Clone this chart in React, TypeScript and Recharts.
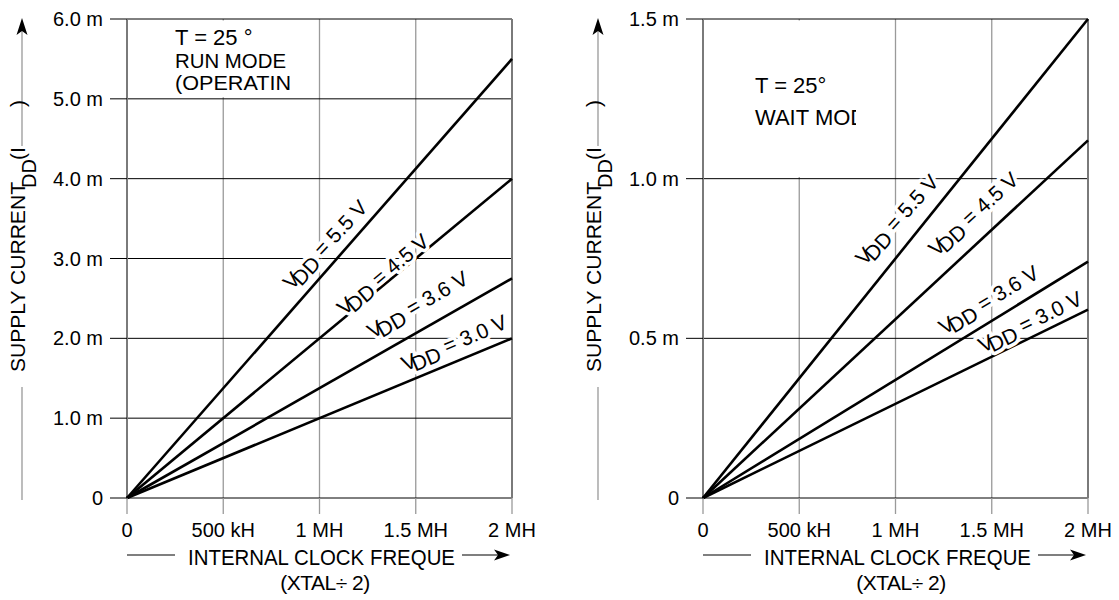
import React from 'react';
import {
  CartesianGrid,
  Line,
  LineChart,
  ReferenceArea,
  ReferenceDot,
  ReferenceLine,
  XAxis,
  YAxis,
} from 'recharts';

// clock frequency in MHz (XTAL / 2)
const freqMHz = [0, 2];

// run mode supply current, mA
const runVdd55 = [0, 5.5];
const runVdd45 = [0, 4.0];
const runVdd36 = [0, 2.75];
const runVdd30 = [0, 2.0];

// wait mode supply current, mA
const waitVdd55 = [0, 1.5];
const waitVdd45 = [0, 1.12];
const waitVdd36 = [0, 0.74];
const waitVdd30 = [0, 0.59];

const xTicks = [0, 0.5, 1, 1.5, 2];
const xTickLabels = ['0', '500 kH', '1 MH', '1.5 MH', '2 MH'];

const runYTicks = [0, 1, 2, 3, 4, 5, 6];
const runYLabels = ['0', '1.0 m', '2.0 m', '3.0 m', '4.0 m', '5.0 m', '6.0 m'];

const waitYTicks = [0, 0.5, 1, 1.5];
const waitYLabels = ['0', '0.5 m', '1.0 m', '1.5 m'];

const vddNames = ['5.5', '4.5', '3.6', '3.0'];

type Row = { f: number; v55: number; v45: number; v36: number; v30: number };

const toRows = (a: number[], b: number[], c: number[], d: number[]): Row[] =>
  freqMHz.map((f, i) => ({ f, v55: a[i], v45: b[i], v36: c[i], v30: d[i] }));

const runData = toRows(runVdd55, runVdd45, runVdd36, runVdd30);
const waitData = toRows(waitVdd55, waitVdd45, waitVdd36, waitVdd30);

// where the "VDD = x V" tags sit, in data units, and their tilt
const runTags = [
  { x: 1.03, y: 3.17, angle: -47 },
  { x: 1.33, y: 2.8, angle: -40 },
  { x: 1.51, y: 2.42, angle: -30 },
  { x: 1.7, y: 1.94, angle: -23 },
];
const waitTags = [
  { x: 1.008, y: 0.871, angle: -48 },
  { x: 1.405, y: 0.889, angle: -42 },
  { x: 1.485, y: 0.62, angle: -31 },
  { x: 1.7, y: 0.551, angle: -26 },
];

const FONT = '"Liberation Sans", Arial, Helvetica, sans-serif';

const TagText = (props: any) => (
  <text x={0} y={7} textAnchor="middle" fontSize={21} {...props}>
    V
    <tspan dx={-5} dy={4}>
      DD
    </tspan>
    <tspan dy={-4}>{` = ${props.volts} V`}</tspan>
  </text>
);

const VddTag = ({ cx, cy, angle, volts }: any) => (
  <g transform={`translate(${cx},${cy}) rotate(${angle})`}>
    <TagText volts={volts} fill="none" stroke="#fff" strokeWidth={7} strokeLinejoin="round" />
    <TagText volts={volts} fill="#000" />
  </g>
);

type PanelProps = {
  data: Row[];
  width: number;
  rightMargin: number;
  yMax: number;
  yTicks: number[];
  yLabels: string[];
  tags: { x: number; y: number; angle: number }[];
  noteBox: { x1: number; x2: number; y1: number; y2: number };
};

const Panel = ({ data, width, rightMargin, yMax, yTicks, yLabels, tags, noteBox }: PanelProps) => (
  <LineChart
    width={width}
    height={600}
    data={data}
    margin={{ top: 19, right: rightMargin, left: 67, bottom: 62 }}
  >
    <CartesianGrid horizontal={false} stroke="#9a9a9a" strokeWidth={1.3} />
    <CartesianGrid vertical={false} stroke="#000" strokeWidth={1} />
    <ReferenceArea {...noteBox} fill="#fff" fillOpacity={1} stroke="none" />
    <ReferenceLine x={0} stroke="#7a7a7a" strokeWidth={2} />
    <ReferenceLine x={2} stroke="#7a7a7a" strokeWidth={2} />
    <XAxis
      dataKey="f"
      type="number"
      domain={[0, 2]}
      ticks={xTicks}
      interval={0}
      height={40}
      axisLine={false}
      tickSize={16}
      tickMargin={9}
      tickLine={{ stroke: '#9a9a9a', strokeWidth: 1.3 }}
      tick={{ fill: '#000', fontSize: 20 }}
      tickFormatter={(v: number) => xTickLabels[xTicks.indexOf(v)]}
    />
    <YAxis
      type="number"
      domain={[0, yMax]}
      ticks={yTicks}
      interval={0}
      width={60}
      axisLine={false}
      tickSize={17}
      tickMargin={7}
      tickLine={{ stroke: '#000', strokeWidth: 1 }}
      tick={{ fill: '#000', fontSize: 20 }}
      tickFormatter={(v: number) => yLabels[yTicks.indexOf(v)]}
    />
    {tags.map((t, i) => (
      <ReferenceDot
        key={vddNames[i]}
        x={t.x}
        y={t.y}
        r={0}
        shape={(p: any) => <VddTag cx={p.cx} cy={p.cy} angle={t.angle} volts={vddNames[i]} />}
      />
    ))}
    {['v55', 'v45', 'v36', 'v30'].map((k) => (
      <Line
        key={k}
        type="linear"
        dataKey={k}
        stroke="#000"
        strokeWidth={2.6}
        dot={false}
        isAnimationActive={false}
      />
    ))}
  </LineChart>
);

const AxisTitles = ({ dx }: { dx: number }) => (
  <g transform={`translate(${dx},0)`} fill="#000" fontSize={21}>
    {/* y title */}
    <line x1={22} y1={30} x2={22} y2={146} stroke="#999" strokeWidth={1.3} />
    <line x1={22} y1={387} x2={22} y2={500} stroke="#999" strokeWidth={1.3} />
    <path d="M22,18 L16.5,35 L22,31 L27.5,35 Z" fill="#000" />
    <text x={25} y={372} transform="rotate(-90 25 372)" textLength={190} lengthAdjust="spacingAndGlyphs">
      SUPPLY CURRENT
    </text>
    <text x={36} y={188} transform="rotate(-90 36 188)" fontSize={20}>
      DD
    </text>
    <text x={25} y={160} transform="rotate(-90 25 160)">
      (I
    </text>
    <text x={25} y={107} transform="rotate(-90 25 107)">
      )
    </text>
    {/* x title */}
    <line x1={127} y1={555} x2={175} y2={555} stroke="#000" strokeWidth={1.2} />
    <line x1={462} y1={555} x2={500} y2={555} stroke="#000" strokeWidth={1.2} />
    <path d="M510,555 L494,549.5 L498,555 L494,560.5 Z" fill="#000" />
    <text x={188} y={565} fontSize={22} textLength={267} lengthAdjust="spacingAndGlyphs">
      INTERNAL CLOCK FREQUE
    </text>
    <text x={325} y={590} textAnchor="middle" letterSpacing={-0.5}>
      (XTAL÷ 2)
    </text>
  </g>
);

export default function App() {
  return (
    <div
      style={{
        position: 'absolute',
        left: 0,
        top: 0,
        width: 1119,
        height: 600,
        background: '#fff',
        fontFamily: FONT,
      }}
    >
      <div style={{ position: 'absolute', left: 0, top: 0 }}>
        <Panel
          data={runData}
          width={560}
          rightMargin={48}
          yMax={6}
          yTicks={runYTicks}
          yLabels={runYLabels}
          tags={runTags}
          noteBox={{ x1: 0.2, x2: 0.9, y1: 5.02, y2: 5.98 }}
        />
      </div>
      <div style={{ position: 'absolute', left: 576, top: 0 }}>
        <Panel
          data={waitData}
          width={543}
          rightMargin={31}
          yMax={1.5}
          yTicks={waitYTicks}
          yLabels={waitYLabels}
          tags={waitTags}
          noteBox={{ x1: 0.2, x2: 0.9, y1: 1.005, y2: 1.495 }}
        />
      </div>
      <svg
        width={1119}
        height={600}
        style={{ position: 'absolute', left: 0, top: 0, pointerEvents: 'none' }}
      >
        <defs>
          <clipPath id="waitClip">
            <rect x={740} y={60} width={116} height={80} />
          </clipPath>
        </defs>
        <AxisTitles dx={0} />
        <AxisTitles dx={576} />
        <g fill="#000" fontSize={22}>
          <text x={175} y={45}>T = 25 °</text>
          <text x={175} y={68} fontSize={21} textLength={111} lengthAdjust="spacingAndGlyphs">
            RUN MODE
          </text>
          <text x={175} y={90} fontSize={21} textLength={116} lengthAdjust="spacingAndGlyphs">
            (OPERATIN
          </text>
          <text x={755} y={93}>T = 25°</text>
          <text x={755} y={125} clipPath="url(#waitClip)">
            WAIT MOD
          </text>
        </g>
      </svg>
    </div>
  );
}
